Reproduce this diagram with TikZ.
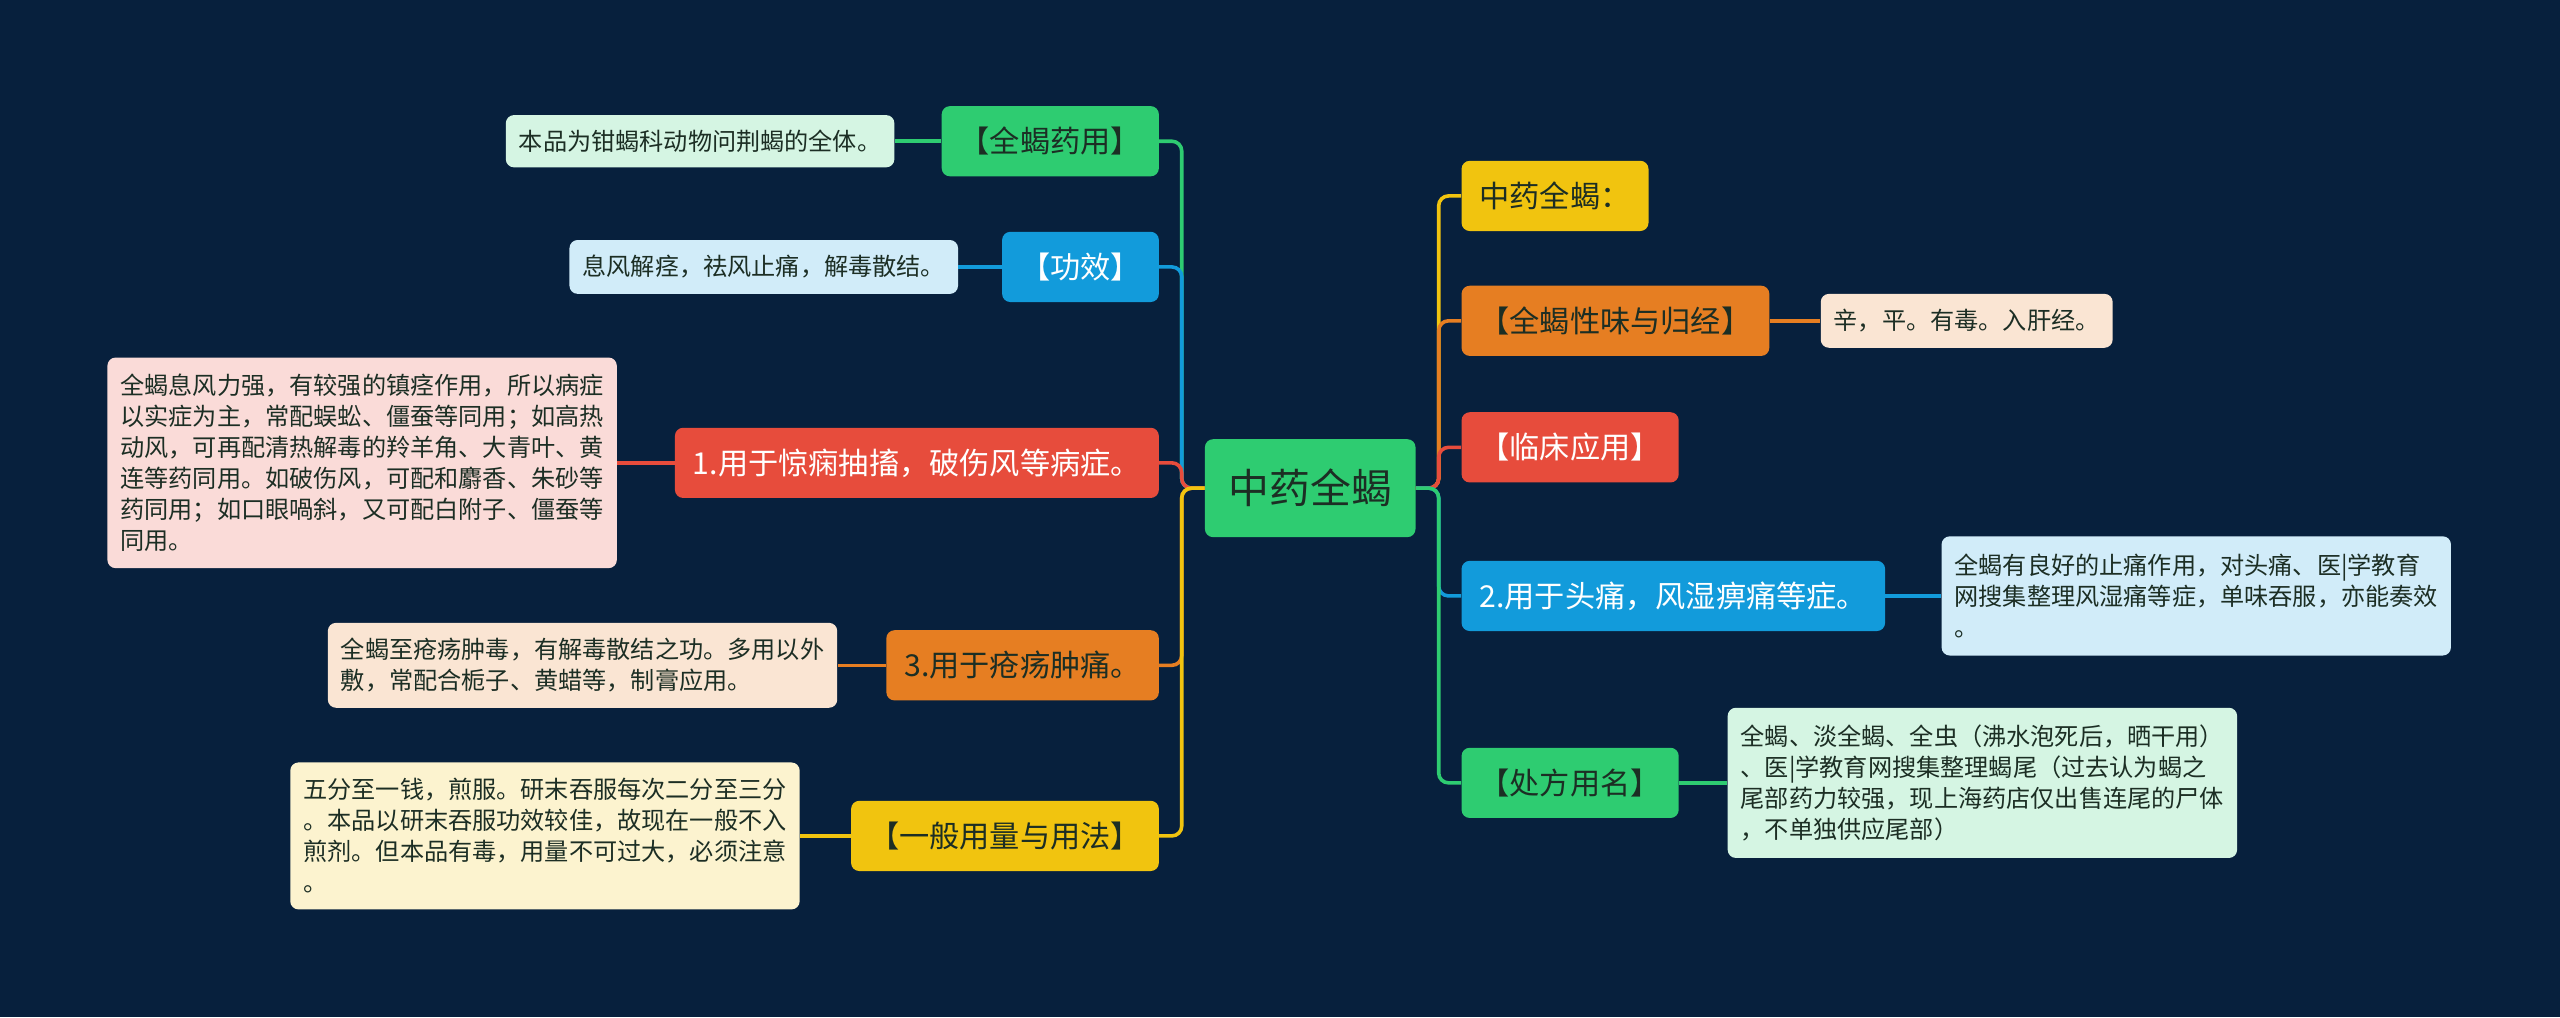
\documentclass[tikz,border=0pt]{standalone}
\usepackage{fontspec}
\setmainfont{Noto Sans CJK SC}

\definecolor{bgnavy}{HTML}{07203D}
\definecolor{cgreen}{HTML}{2ECC71}
\definecolor{cblue}{HTML}{129BDB}
\definecolor{cred}{HTML}{E74C3C}
\definecolor{corange}{HTML}{E67E22}
\definecolor{cyellow}{HTML}{F1C40F}
\definecolor{lgreen}{HTML}{D5F5E3}
\definecolor{lblue}{HTML}{D1ECF9}
\definecolor{lred}{HTML}{FADBD8}
\definecolor{lorange}{HTML}{FAE5D3}
\definecolor{lyellow}{HTML}{FCF3CF}
\definecolor{darktext}{HTML}{1C2E24}

\tikzset{
  roottopic/.style={rounded corners=5pt, minimum height=60pt, inner xsep=14.5pt,
    font=\fontsize{25}{28}\selectfont, fill=cgreen, text=darktext},
  branch/.style={rounded corners=5pt, minimum height=43pt, inner xsep=11pt,
    font=\fontsize{18.5}{22}\selectfont},
  leaf/.style={rounded corners=5pt, inner xsep=8pt, inner ysep=6pt, align=left,
    font=\fontsize{14.8}{19}\selectfont, text=darktext},
  link/.style={line width=2.2pt, rounded corners=6pt},
}

\begin{document}
\begin{tikzpicture}[x=1pt,y=-1pt]
  \fill[bgnavy] (0,0) rectangle (1568,623);
  \useasboundingbox (0,0) rectangle (1568,623);

  \node[roottopic] (root) at (802.5,299) {中药全蝎};

  \node[branch, fill=cgreen, text=darktext, anchor=east] (yaoyong) at (710,86.5) {【全蝎药用】};
  \node[branch, fill=cblue, text=white, anchor=east] (gongxiao) at (710,163.5) {【功效】};
  \node[branch, fill=cred, text=white, anchor=east] (jingxian) at (710,283.5) {1.用于惊痫抽搐，破伤风等病症。};
  \node[branch, fill=corange, text=darktext, anchor=east] (chuangyang) at (710,407.5) {3.用于疮疡肿痛。};
  \node[branch, fill=cyellow, text=darktext, anchor=east] (yongliang) at (710,512) {【一般用量与用法】};

  \node[branch, fill=cyellow, text=darktext, anchor=west] (mingcheng) at (895,120) {中药全蝎：};
  \node[branch, fill=corange, text=darktext, anchor=west] (xingwei) at (895,196.5) {【全蝎性味与归经】};
  \node[branch, fill=cred, text=white, anchor=west] (linchuang) at (895,274) {【临床应用】};
  \node[branch, fill=cblue, text=white, anchor=west] (toutong) at (895,365) {2.用于头痛，风湿痹痛等症。};
  \node[branch, fill=cgreen, text=darktext, anchor=west] (chufang) at (895,479.5) {【处方用名】};

  \node[leaf, fill=lgreen, minimum height=32pt, anchor=east] (yaoyongtxt) at (548,86.5)
    {本品为钳蝎科动物问荆蝎的全体。};
  \node[leaf, fill=lblue, minimum height=33pt, anchor=east] (gongxiaotxt) at (587,163.5)
    {息风解痉，祛风止痛，解毒散结。};
  \node[leaf, fill=lred, minimum height=129pt, anchor=east] (jingxiantxt) at (378,283.5)
    {全蝎息风力强，有较强的镇痉作用，所以病症\\以实症为主，常配蜈蚣、僵蚕等同用；如高热\\动风，可再配清热解毒的羚羊角、大青叶、黄\\连等药同用。如破伤风，可配和麝香、朱砂等\\药同用；如口眼喎斜，又可配白附子、僵蚕等\\同用。};
  \node[leaf, fill=lorange, minimum height=52pt, anchor=east] (chuangyangtxt) at (513,407.5)
    {全蝎至疮疡肿毒，有解毒散结之功。多用以外\\敷，常配合栀子、黄蜡等，制膏应用。};
  \node[leaf, fill=lyellow, minimum height=90pt, anchor=east] (yongliangtxt) at (490,512)
    {五分至一钱，煎服。研末吞服每次二分至三分\\。本品以研末吞服功效较佳，故现在一般不入\\煎剂。但本品有毒，用量不可过大，必须注意\\。};

  \node[leaf, fill=lorange, minimum height=33pt, anchor=west] (xingweitxt) at (1115,196.5)
    {辛，平。有毒。入肝经。};
  \node[leaf, fill=lblue, minimum height=73pt, anchor=west] (toutongtxt) at (1189,365)
    {全蝎有良好的止痛作用，对头痛、医|学教育\\网搜集整理风湿痛等症，单味吞服，亦能奏效\\。};
  \node[leaf, fill=lgreen, minimum height=92pt, anchor=west] (chufangtxt) at (1058,479.5)
    {全蝎、淡全蝎、全虫（沸水泡死后，晒干用）\\、医|学教育网搜集整理蝎尾（过去认为蝎之\\尾部药力较强，现上海药店仅出售连尾的尸体\\，不单独供应尾部）};

  \foreach \b/\c in {yaoyong/cgreen, gongxiao/cblue, jingxian/cred, chuangyang/corange, yongliang/cyellow}
    \draw[link, \c] (root.west) -- ++(-14,0) |- (\b.east);
  \foreach \b/\c in {mingcheng/cyellow, xingwei/corange, linchuang/cred, toutong/cblue, chufang/cgreen}
    \draw[link, \c] (root.east) -- ++(14,0) |- (\b.west);

  \foreach \b/\c in {yaoyong/cgreen, gongxiao/cblue, jingxian/cred, chuangyang/corange, yongliang/cyellow}
    \draw[link, \c] (\b.west) -- (\b txt.east);
  \foreach \b/\c in {xingwei/corange, toutong/cblue, chufang/cgreen}
    \draw[link, \c] (\b.east) -- (\b txt.west);
\end{tikzpicture}
\end{document}
